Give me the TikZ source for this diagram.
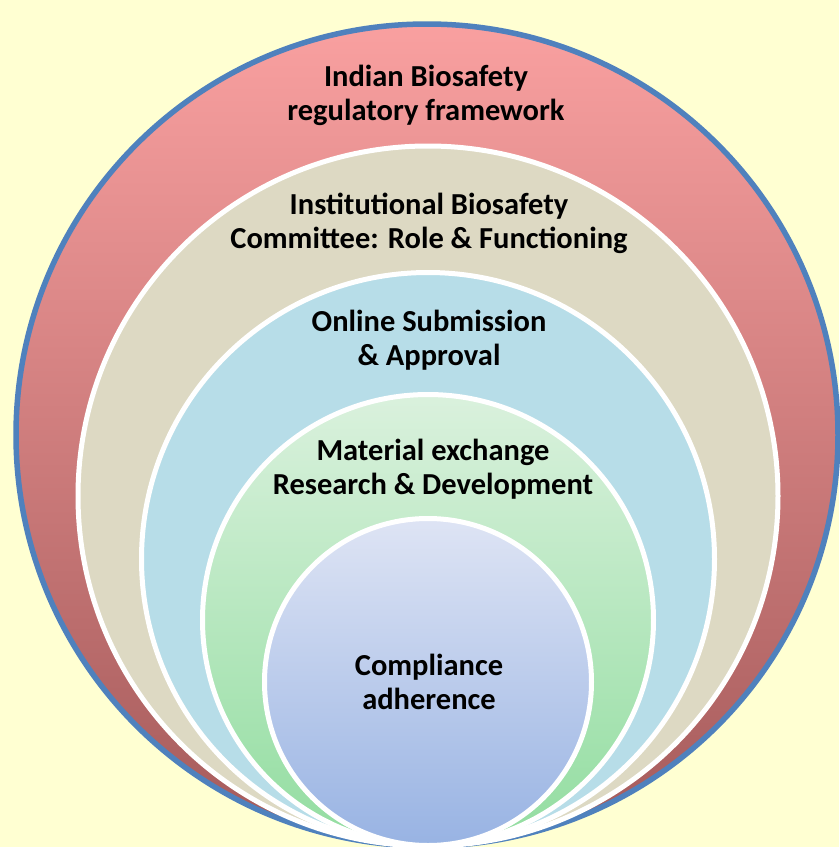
\documentclass[tikz,border=0pt]{standalone}
\usepackage{fontspec}
\setmainfont{Carlito}
\definecolor{bgyellow}{HTML}{FFFFD2}
\definecolor{rimblue}{HTML}{4F81BD}
\definecolor{redtop}{HTML}{F9A0A0}
\definecolor{redbot}{HTML}{A45A5A}
\definecolor{beige}{HTML}{DDD9C3}
\definecolor{paleblue}{HTML}{B7DDE8}
\definecolor{greentop}{HTML}{DAF1DD}
\definecolor{greenbot}{HTML}{92DDA0}
\definecolor{lavtop}{HTML}{DEE4F4}
\definecolor{lavbot}{HTML}{98B3E3}
\begin{document}
\begin{tikzpicture}
  [x=1pt,y=-1pt,
   ring/.style={draw=white, line width=5pt, circle, inner sep=0pt},
   lbl/.style={align=center, font=\bfseries\fontsize{30.5}{34}\selectfont}]
  \fill[bgyellow] (0,0) rectangle (839,847);
  \useasboundingbox (0,0) rectangle (839,847);

  \node[ring, draw=rimblue, line width=5.5pt, top color=redtop, bottom color=redbot, minimum size=822pt] (r1) at (427,435) {};
  \node[ring, fill=beige, minimum size=700pt] (r2) at (428,496) {};
  \node[ring, fill=paleblue, minimum size=573pt] (r3) at (428,559) {};
  \node[ring, top color=greentop, bottom color=greenbot, minimum size=451pt] (r4) at (428,620) {};
  \node[ring, top color=lavtop, bottom color=lavbot, minimum size=327pt] (r5) at (428,682) {};

  \node[lbl] (t1) at (426,95) {Indian Biosafety\\regulatory framework};
  \node[lbl] (t2) at (429,223) {Institutional Biosafety\\Committee: Role \& Functioning};
  \node[lbl] (t3) at (429,340) {Online Submission\\\& Approval};
  \node[lbl] (t4) at (433,469) {Material exchange\\Research \& Development};
  \node[lbl] (t5) at (429,682) {Compliance\\adherence};
\end{tikzpicture}
\end{document}
